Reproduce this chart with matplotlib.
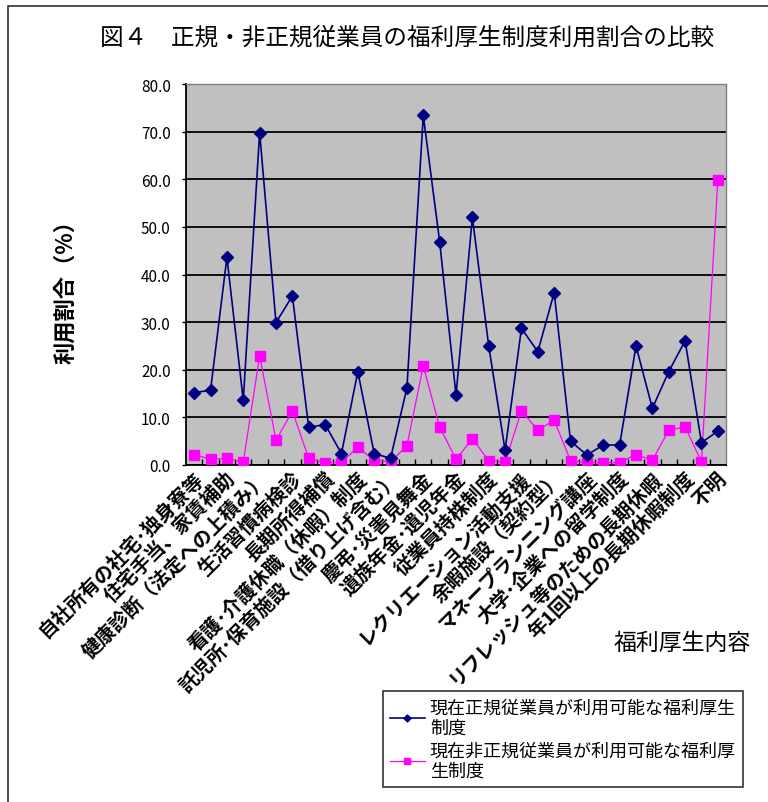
import numpy as np
import matplotlib
matplotlib.use('Agg')
import matplotlib.pyplot as plt
from matplotlib.patches import Rectangle
from matplotlib.transforms import ScaledTranslation

plt.rcParams['font.family'] = ['Noto Sans CJK JP', 'DejaVu Sans']

# Utilisation rate (%) of each welfare item, 33 items; only every second one is labelled
regular = [15.2, 15.7, 43.6, 13.6, 69.8, 29.9, 35.5, 7.9, 8.5, 2.4, 19.6,
           2.4, 1.4, 16.2, 73.4, 46.9, 14.7, 52.0, 25.0, 3.1, 28.7, 23.8,
           36.2, 5.0, 2.1, 4.2, 4.2, 25.0, 11.9, 19.6, 26.1, 4.7, 7.1]
non_regular = [2.2, 1.2, 1.4, 0.6, 22.9, 5.2, 11.3, 1.4, 0.5, 0.5, 3.8,
               0.9, 0.7, 4.0, 20.8, 8.0, 1.2, 5.5, 0.9, 0.6, 11.4, 7.3,
               9.4, 0.9, 0.5, 0.5, 0.5, 2.2, 1.0, 7.3, 8.0, 0.7, 59.8]
tick_labels = [
    '自社所有の社宅･独身寮等',
    '住宅手当、家賃補助',
    '健康診断（法定への上積み）',
    '生活習慣病検診',
    '長期所得補償',
    '看護･介護休職（休暇）制度',
    '託児所･保育施設（借り上げ含む）',
    '慶弔･災害見舞金',
    '遺族年金･遺児年金',
    '従業員持株制度',
    'レクリエーション活動支援',
    '余暇施設（契約型）',
    'マネープランニング講座',
    '大学･企業への留学制度',
    'リフレッシュ等のための長期休暇',
    '年1回以上の長期休暇制度',
    '不明',
]
y_ticks = [0, 10, 20, 30, 40, 50, 60, 70, 80]
series_names = ['現在正規従業員が利用可能な福利厚生\n制度',
                '現在非正規従業員が利用可能な福利厚\n生制度']

W, H = 768, 803
fig = plt.figure(figsize=(W / 100, H / 100), dpi=100)
fig.patch.set_facecolor('white')

# outer chart frame (right and bottom edges fall outside the image)
fig.add_artist(Rectangle((8 / W, -0.5), 2.0, 1 - 7 / H + 0.5,
                         transform=fig.transFigure, fill=False,
                         edgecolor='#303030', linewidth=1.2))

ax = fig.add_axes([186 / W, 1 - 466 / H, 540 / W, 381 / H])
ax.set_facecolor('#C0C0C0')

x = np.arange(len(regular))
ax.plot(x, regular, color='#000080', linewidth=1.2, marker='D',
        markersize=6, markerfacecolor='#000080', markeredgecolor='#000080',
        label=series_names[0], zorder=4)
ax.plot(x, non_regular, color='#FF00FF', linewidth=0.9, marker='s',
        markersize=6.5, markerfacecolor='#FF00FF', markeredgecolor='#FF00FF',
        label=series_names[1], zorder=3)

ax.set_xlim(-0.5, len(regular) - 0.5)
ax.set_ylim(0, 80)
ax.set_yticks(y_ticks)
ax.set_yticklabels([f'{v:.1f}' for v in y_ticks], fontsize=11)
ax.yaxis.grid(True, color='black', linewidth=1.3)
ax.set_axisbelow(True)
ax.tick_params(axis='y', length=3, width=1, pad=8)

# tick marks between categories, labels on every second category
ax.set_xticks(x[:-1] + 0.5, minor=True)
ax.set_xticks(x[::2])
ax.set_xticklabels(tick_labels, fontsize=14, fontweight='bold')
ax.tick_params(axis='x', which='major', length=0, pad=7)
ax.tick_params(axis='x', which='minor', direction='in', length=4.5, width=1)
shift = ScaledTranslation(0.06, 0, fig.dpi_scale_trans)
for lbl in ax.get_xticklabels():
    lbl.set_rotation(45)
    lbl.set_ha('right')
    lbl.set_va('center')
    lbl.set_rotation_mode('anchor')
    lbl.set_transform(lbl.get_transform() + shift)

for side in ('left', 'bottom'):
    ax.spines[side].set_color('black')
    ax.spines[side].set_linewidth(1.3)
for side in ('top', 'right'):
    ax.spines[side].set_color('#808080')
    ax.spines[side].set_linewidth(1.0)

fig.text(407 / W, 1 - 38 / H, '図４　正規・非正規従業員の福利厚生制度利用割合の比較',
         ha='center', va='center', fontsize=17)
fig.text(66 / W, 1 - 286 / H, '利用割合（%）', rotation=90,
         ha='center', va='center', fontsize=16, fontweight='bold')
fig.text(682 / W, 1 - 643 / H, '福利厚生内容', ha='center', va='center',
         fontsize=16.5)

leg = fig.legend(loc='upper left', bbox_to_anchor=(383 / W, 1 - 692 / H),
                 bbox_transform=fig.transFigure, fontsize=13,
                 frameon=True, fancybox=False, borderaxespad=0,
                 borderpad=0.4, handlelength=1.9, handletextpad=0.3,
                 labelspacing=0.3, markerscale=0.6)
leg.get_frame().set_edgecolor('black')
leg.get_frame().set_linewidth(1.2)
for t in leg.get_texts():
    t.set_linespacing(1.15)

fig.savefig('out.png', dpi=100, facecolor='white')
